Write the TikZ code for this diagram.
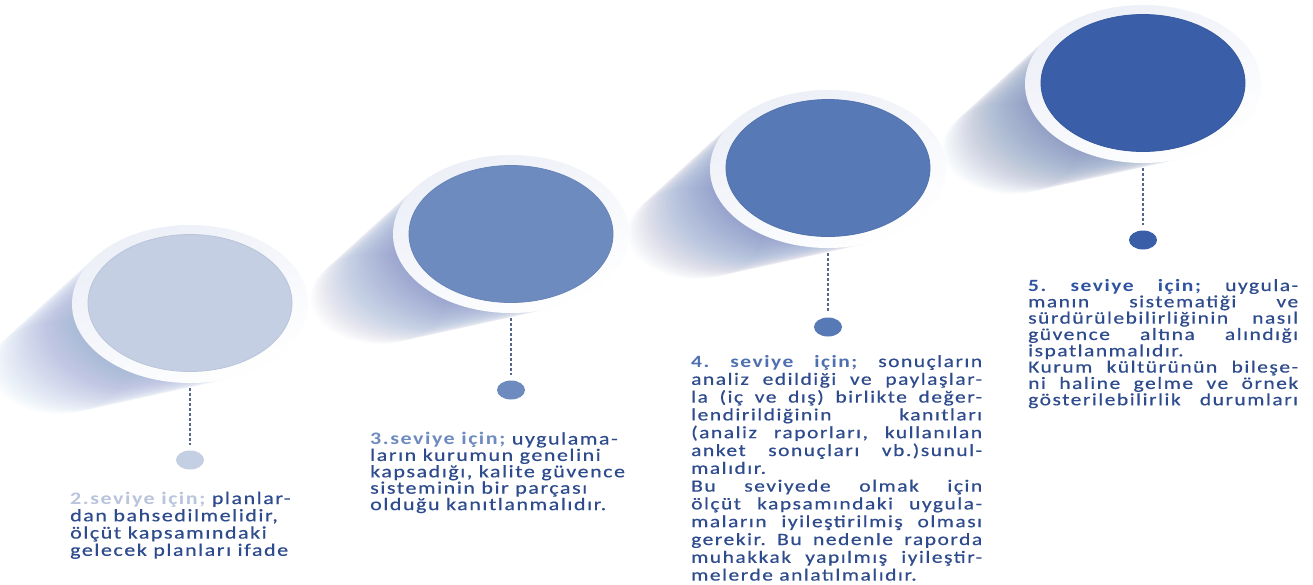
\documentclass[tikz,border=0pt]{standalone}
\usepackage{fontspec}
\usepackage{graphicx}
\setmainfont[LetterSpace=7,UprightFeatures={FakeBold=0.45}]{Carlito}
\usetikzlibrary{shapes.geometric}
\definecolor{cA}{HTML}{C4CFE4}
\definecolor{cB}{HTML}{6E8BC0}
\definecolor{cC}{HTML}{5779B6}
\definecolor{cD}{HTML}{3A5EA7}
\definecolor{hA}{HTML}{B9C4DD}
\definecolor{hC}{HTML}{4F70B0}
\definecolor{hD}{HTML}{2F53A0}
\definecolor{txt}{HTML}{2E4B8D}
\definecolor{dotc}{HTML}{56658A}
\definecolor{ringA}{HTML}{ECEFF7}
\definecolor{shA}{HTML}{6F88C4}
\definecolor{shB}{HTML}{4A6AB2}
\definecolor{shC}{HTML}{3F61AC}
\definecolor{shD}{HTML}{35579F}
\newlength\blkw
\newcommand\tblock[4]{\scalebox{1}[0.8]{\vtop{\frenchspacing\fontsize{#4}{#2}\selectfont\baselineskip=#2pt\lineskiplimit=-100pt\relax\setlength\blkw{#1pt}#3}}}
\newcommand\J[1]{\hbox to \blkw{#1}}
\newcommand\R[1]{\hbox{#1}}
\tikzset{
  ring/.style={ellipse, minimum width=236pt, minimum height=158pt, inner sep=0pt,
    top color=ringA, bottom color=white, shading angle=25},
  disc/.style={ellipse, minimum width=204pt, minimum height=137pt, inner sep=0pt,
    fill=#1, draw=#1!95!black, line width=0.8pt},
  knob/.style={ellipse, minimum width=28pt, minimum height=19pt, inner sep=0pt, fill=#1},
  dotline/.style={draw=dotc, line width=2.8pt, dash pattern=on 2.8pt off 2.2pt,
    shorten <=5pt, shorten >=5pt},
  txtblock/.style={anchor=base west, inner sep=0pt, text=txt},
}
\begin{document}
\begin{tikzpicture}[x=1pt,y=-1pt]
\fill[white] (0,0) rectangle (1313,584);
\useasboundingbox (0,0) rectangle (1313,584);
% long soft shadows
\foreach \cx/\cy/\col in {190/304/shA, 511/234/shB, 828/169/shC, 1143/84/shD}{
  \foreach \k in {1,...,40}{
    \pgfmathsetmacro\s{1-0.0105*\k}
    \fill[\col, opacity=0.015] (\cx-3.3*\k,\cy+1.6*\k) ellipse [x radius=118*\s, y radius=79*\s];
  }
}
% discs
\node[ring] (o2) at (190,304) {};
\node[disc=cA] (i2) at (190,303) {};
\node[ring] (o3) at (511,234) {};
\node[disc=cB] (i3) at (511,234) {};
\node[ring] (o4) at (828,169) {};
\node[disc=cC] (i4) at (828,168) {};
\node[ring] (o5) at (1143,84) {};
\node[disc=cD] (i5) at (1143,83) {};
% knobs
\node[knob=cA] (d2) at (190,460) {};
\node[knob=cB] (d3) at (511,390) {};
\node[knob=cC] (d4) at (828,327) {};
\node[knob=cD] (d5) at (1143,240) {};
% dotted stems
\draw[dotline] (o2) -- (d2);
\draw[dotline] (o3) -- (d3);
\draw[dotline] (o4) -- (d4);
\draw[dotline] (o5) -- (d5);
% texts
\node[txtblock] (t2) at (70,504) {\tblock{230}{21.6}{%
  \R{{\bfseries\color{hA}2.seviye için;} planlar-}
  \R{dan bahsedilmelidir,}
  \R{ölçüt kapsamındaki}
  \R{gelecek planları ifade}}{22}};
\node[txtblock] (t3) at (370,444.5) {\tblock{262}{20.5}{%
  \R{{\bfseries\color{cB}3.seviye için;} uygulama-}
  \R{ların kurumun genelini}
  \R{kapsadığı, kalite güvence}
  \R{sisteminin bir parçası}
  \R{olduğu kanıtlanmalıdır.}}{22}};
\node[txtblock] (t4) at (691,367) {\tblock{291}{22.25}{%
  \J{{\bfseries\color{hC}4. seviye için;} sonuçların}
  \J{analiz edildiği ve paylaşlar-}
  \J{la (iç ve dış) birlikte değer-}
  \J{lendirildiğinin kanıtları}
  \J{(analiz raporları, kullanılan}
  \J{anket sonuçları vb.)sunul-}
  \R{malıdır.}
  \J{Bu seviyede olmak için}
  \J{ölçüt kapsamındaki uygula-}
  \J{maların iyileştirilmiş olması}
  \J{gerekir. Bu nedenle raporda}
  \J{muhakkak yapılmış iyileştir-}
  \R{melerde anlatılmalıdır.}}{21.5}};
\node[txtblock] (t5) at (1028,291) {\tblock{270}{20.4}{%
  \J{{\bfseries\color{hD}5. seviye için;} uygula-}
  \J{manın sistematiği ve}
  \J{sürdürülebilirliğinin nasıl}
  \J{güvence altına alındığı}
  \R{ispatlanmalıdır.}
  \J{Kurum kültürünün bileşe-}
  \J{ni haline gelme ve örnek}
  \J{gösterilebilirlik durumları}}{21.5}};
\end{tikzpicture}
\end{document}
